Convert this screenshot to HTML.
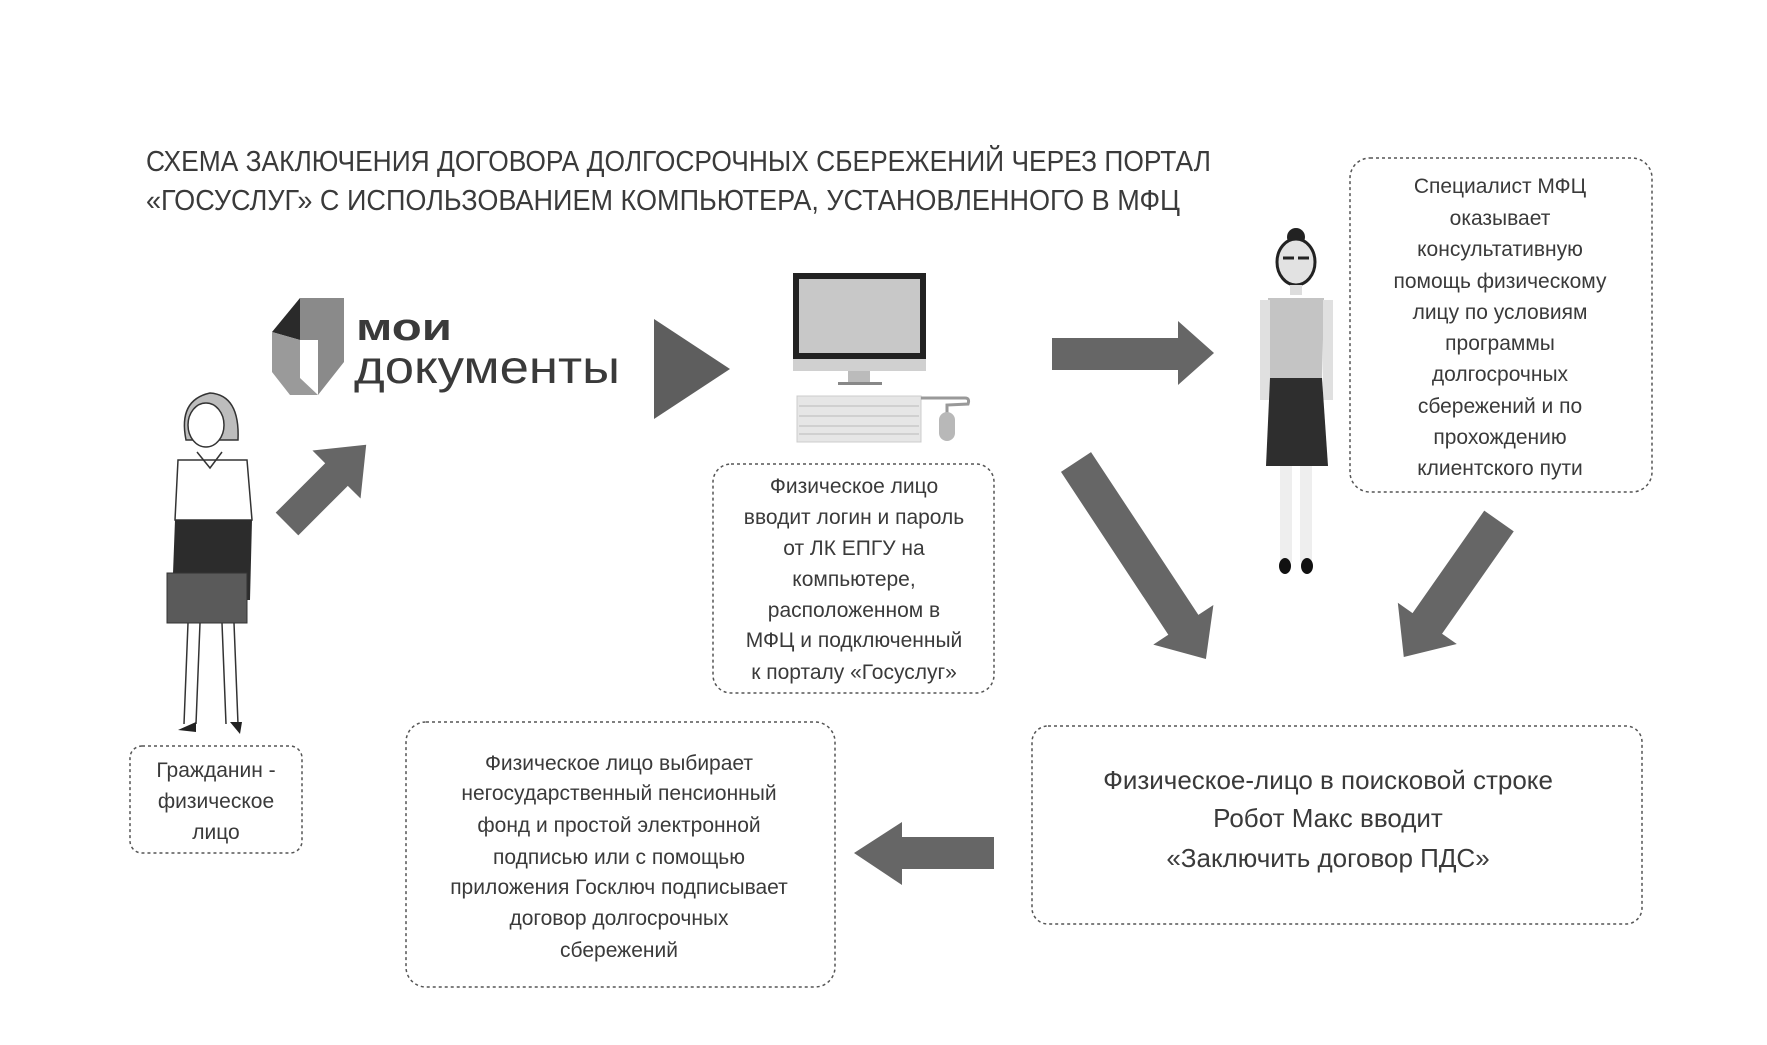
<!DOCTYPE html>
<html><head><meta charset="utf-8"><style>
html,body{margin:0;padding:0;background:#fff}
svg{display:block}
text{font-family:"Liberation Sans",sans-serif;fill:#3a3a3a}
</style></head><body>
<svg width="1767" height="1045" viewBox="0 0 1767 1045" xmlns="http://www.w3.org/2000/svg">
<rect width="1767" height="1045" fill="#fff"/>
<text x="146" y="171" font-size="29" textLength="1065" lengthAdjust="spacingAndGlyphs" fill="#4a4a4a">СХЕМА ЗАКЛЮЧЕНИЯ ДОГОВОРА ДОЛГОСРОЧНЫХ СБЕРЕЖЕНИЙ ЧЕРЕЗ ПОРТАЛ</text>
<text x="146" y="210" font-size="29" textLength="1034" lengthAdjust="spacingAndGlyphs" fill="#4a4a4a">«ГОСУСЛУГ» С ИСПОЛЬЗОВАНИЕМ КОМПЬЮТЕРА, УСТАНОВЛЕННОГО В МФЦ</text>

<path d="M300 298 L344 298 L344 362 L318 395 L318 340 L300 340 Z" fill="#8a8a8a"/>
<path d="M272 332 L300 298 L300 340 Z" fill="#2a2a2a"/>
<path d="M272 332 L300 340 L300 378 L318 395 L290 395 L272 372 Z" fill="#9a9a9a"/>
<text x="356" y="340" font-size="38" font-weight="bold" fill="#333" textLength="96" lengthAdjust="spacingAndGlyphs">мои</text>
<text x="354" y="383" font-size="46" fill="#333" textLength="266" lengthAdjust="spacingAndGlyphs">документы</text>

<polygon points="654,319 654,419 730,369" fill="#5e5e5e"/>

<rect x="793" y="273" width="133" height="86" fill="#222"/>
<rect x="799" y="279" width="121" height="74" fill="#c8c8c8"/>
<rect x="793" y="359" width="133" height="12" fill="#d0d0d0"/>
<rect x="848" y="371" width="22" height="12" fill="#bbb"/>
<rect x="838" y="382" width="44" height="3" fill="#888"/>
<rect x="797" y="396" width="124" height="46" fill="#e6e6e6" stroke="#ccc"/>
<g stroke="#bbb" stroke-width="1">
<line x1="799" y1="406" x2="919" y2="406"/><line x1="799" y1="416" x2="919" y2="416"/><line x1="799" y1="426" x2="919" y2="426"/><line x1="799" y1="434" x2="919" y2="434"/>
</g>
<path d="M921 398 L965 398 Q970 398 968 404 L947 405 L947 414" fill="none" stroke="#999" stroke-width="3"/>
<rect x="939" y="412" width="16" height="29" rx="8" fill="#b8b8b8"/>

<path d="M186 440 Q178 400 210 393 Q240 395 238 440 Z" fill="#bdbdbd" stroke="#333" stroke-width="1.5"/>
<ellipse cx="206" cy="425" rx="18" ry="22" fill="#fff" stroke="#333" stroke-width="1.5"/>
<path d="M178 460 L247 460 L252 520 L175 520 Z" fill="#fff" stroke="#333" stroke-width="1.5"/>
<path d="M197 452 L210 468 L222 452" fill="none" stroke="#333" stroke-width="1.5"/>
<path d="M175 520 L252 520 L250 600 L172 600 Z" fill="#2c2c2c"/>
<path d="M188 623 L184 724 M200 623 L196 724 M222 623 L226 724 M234 623 L238 724" stroke="#333" stroke-width="1.5"/>
<rect x="167" y="573" width="80" height="50" fill="#5a5a5a" stroke="#333"/>
<path d="M178 730 L196 722 L196 732 Z M230 722 L242 722 L240 734 Z" fill="#222"/>

<g transform="translate(287,524) rotate(-45)">
<polygon points="0,-16 70,-16 70,-34 112,0 70,34 70,16 0,16" fill="#666"/>
</g>

<polygon points="1052,338 1178,338 1178,321 1214,353 1178,385 1178,370 1052,370" fill="#666"/>

<circle cx="1296" cy="237" r="9" fill="#222"/>
<ellipse cx="1296" cy="262" rx="19" ry="23" fill="#e2e2e2" stroke="#222" stroke-width="3"/>
<path d="M1283 258 h11 M1298 258 h11" stroke="#222" stroke-width="3"/>
<rect x="1290" y="285" width="12" height="10" fill="#ddd"/>
<path d="M1268 298 L1324 298 L1322 380 L1296 388 L1270 380 Z" fill="#c4c4c4"/>
<rect x="1260" y="300" width="10" height="100" fill="#e0e0e0"/>
<rect x="1323" y="300" width="10" height="100" fill="#e0e0e0"/>
<path d="M1270 378 L1322 378 L1328 466 L1266 466 Z" fill="#2e2e2e"/>
<rect x="1280" y="466" width="12" height="96" fill="#eee"/>
<rect x="1300" y="466" width="12" height="96" fill="#eee"/>
<ellipse cx="1285" cy="566" rx="6" ry="8" fill="#111"/>
<ellipse cx="1307" cy="566" rx="6" ry="8" fill="#111"/>

<g transform="translate(1076,462) rotate(56.6)">
<polygon points="0,-18 195,-18 195,-36 236,0 195,36 195,18 0,18" fill="#666"/>
</g>
<g transform="translate(1499,521) rotate(125)">
<polygon points="0,-18 125,-18 125,-36 166,0 125,36 125,18 0,18" fill="#666"/>
</g>

<polygon points="994,837 902,837 902,822 854,853 902,885 902,869 994,869" fill="#666"/>

<g fill="none" stroke="#555" stroke-width="1.5" stroke-dasharray="3,3">
<rect x="713" y="464" width="281" height="229" rx="18"/>
<rect x="1350" y="158" width="302" height="334" rx="20"/>
<rect x="130" y="746" width="172" height="107" rx="12"/>
<rect x="406" y="722" width="429" height="265" rx="20"/>
<rect x="1032" y="726" width="610" height="198" rx="16"/>
</g>

<g font-size="21" text-anchor="middle">
<text x="854" y="493">Физическое лицо</text>
<text x="854" y="524">вводит логин и пароль</text>
<text x="854" y="555">от ЛК ЕПГУ на</text>
<text x="854" y="586">компьютере,</text>
<text x="854" y="617">расположенном в</text>
<text x="854" y="647">МФЦ и подключенный</text>
<text x="854" y="679">к порталу «Госуслуг»</text>

<text x="1500" y="193">Специалист МФЦ</text>
<text x="1500" y="225">оказывает</text>
<text x="1500" y="256">консультативную</text>
<text x="1500" y="288">помощь физическому</text>
<text x="1500" y="319">лицу по условиям</text>
<text x="1500" y="350">программы</text>
<text x="1500" y="381">долгосрочных</text>
<text x="1500" y="413">сбережений и по</text>
<text x="1500" y="444">прохождению</text>
<text x="1500" y="475">клиентского пути</text>

<text x="216" y="777">Гражданин -</text>
<text x="216" y="808">физическое</text>
<text x="216" y="839">лицо</text>

<text x="619" y="770">Физическое лицо выбирает</text>
<text x="619" y="800">негосударственный пенсионный</text>
<text x="619" y="832">фонд и простой электронной</text>
<text x="619" y="864">подписью или с помощью</text>
<text x="619" y="894">приложения Госключ подписывает</text>
<text x="619" y="925">договор долгосрочных</text>
<text x="619" y="957">сбережений</text>
</g>
<g font-size="26" text-anchor="middle">
<text x="1328" y="789">Физическое-лицо в поисковой строке</text>
<text x="1328" y="827">Робот Макс вводит</text>
<text x="1328" y="867">«Заключить договор ПДС»</text>
</g>
</svg>
</body></html>
